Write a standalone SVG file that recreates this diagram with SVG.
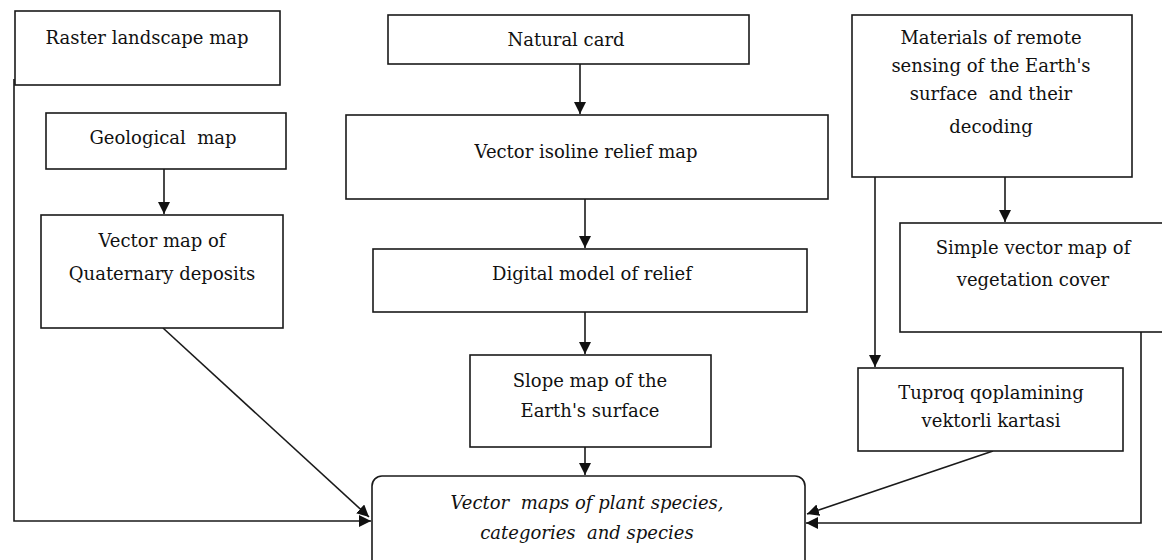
<svg xmlns="http://www.w3.org/2000/svg" width="1162" height="560" viewBox="0 0 1162 560">
<style>
.box{fill:#fff;stroke:#1a1a1a;stroke-width:1.6}
.t{font-family:"DejaVu Serif","Liberation Serif",serif;font-size:18px;fill:#111;text-anchor:middle}
.it{font-style:italic}
.c{fill:none;stroke:#1a1a1a;stroke-width:1.6}
</style>
<defs>
<marker id="ah" markerUnits="userSpaceOnUse" markerWidth="13" markerHeight="12" refX="12" refY="6" orient="auto">
<path d="M0,0 L12,6 L0,12 z" fill="#111"/>
</marker>
</defs>
<rect width="1162" height="560" fill="#fff"/>
<g id="connectors">
<path class="c" d="M580,64 V114" marker-end="url(#ah)"/>
<path class="c" d="M164,169 V214" marker-end="url(#ah)"/>
<path class="c" d="M585,199 V248" marker-end="url(#ah)"/>
<path class="c" d="M585,312 V354" marker-end="url(#ah)"/>
<path class="c" d="M585,447 V475" marker-end="url(#ah)"/>
<path class="c" d="M1005,177 V222" marker-end="url(#ah)"/>
<path class="c" d="M875,177 V367" marker-end="url(#ah)"/>
<path class="c" d="M14,79 L14,521 L371,521" marker-end="url(#ah)"/>
<path class="c" d="M163,328 L369,517" marker-end="url(#ah)"/>
<path class="c" d="M1141,332 L1141,523 L806,523" marker-end="url(#ah)"/>
<path class="c" d="M993,451 L807,514" marker-end="url(#ah)"/>
</g>
<g id="raster">
<rect class="box" x="15" y="11" width="265" height="74"/>
<text class="t" x="147" y="44">Raster landscape map</text>
</g>
<g id="geological">
<rect class="box" x="46" y="113" width="240" height="56"/>
<text class="t" x="163" y="144" xml:space="preserve">Geological  map</text>
</g>
<g id="quaternary">
<rect class="box" x="41" y="215" width="242" height="113"/>
<text class="t" x="162" y="247">Vector map of</text>
<text class="t" x="162" y="280">Quaternary deposits</text>
</g>
<g id="natural">
<rect class="box" x="388" y="15" width="361" height="49"/>
<text class="t" x="566" y="46">Natural card</text>
</g>
<g id="isoline">
<rect class="box" x="346" y="115" width="482" height="84"/>
<text class="t" x="586" y="158">Vector isoline relief map</text>
</g>
<g id="digital">
<rect class="box" x="373" y="249" width="434" height="63"/>
<text class="t" x="592" y="280">Digital model of relief</text>
</g>
<g id="slope">
<rect class="box" x="470" y="355" width="241" height="92"/>
<text class="t" x="590" y="387">Slope map of the</text>
<text class="t" x="590" y="417">Earth's surface</text>
</g>
<g id="materials">
<rect class="box" x="852" y="15" width="280" height="162"/>
<text class="t" x="991" y="44">Materials of remote</text>
<text class="t" x="991" y="72">sensing of the Earth's</text>
<text class="t" x="991" y="100" xml:space="preserve">surface  and their</text>
<text class="t" x="991" y="133">decoding</text>
</g>
<g id="simple">
<rect class="box" x="900" y="223" width="300" height="109"/>
<text class="t" x="1033" y="254">Simple vector map of</text>
<text class="t" x="1033" y="286">vegetation cover</text>
</g>
<g id="tuproq">
<rect class="box" x="858" y="368" width="265" height="83"/>
<text class="t" x="991" y="399">Tuproq qoplamining</text>
<text class="t" x="991" y="427">vektorli kartasi</text>
</g>
<g id="result">
<rect class="box" x="372" y="476" width="433" height="100" rx="10"/>
<text class="t it" x="587" y="509" xml:space="preserve">Vector  maps of plant species,</text>
<text class="t it" x="587" y="539" xml:space="preserve">categories  and species</text>
</g>
</svg>
